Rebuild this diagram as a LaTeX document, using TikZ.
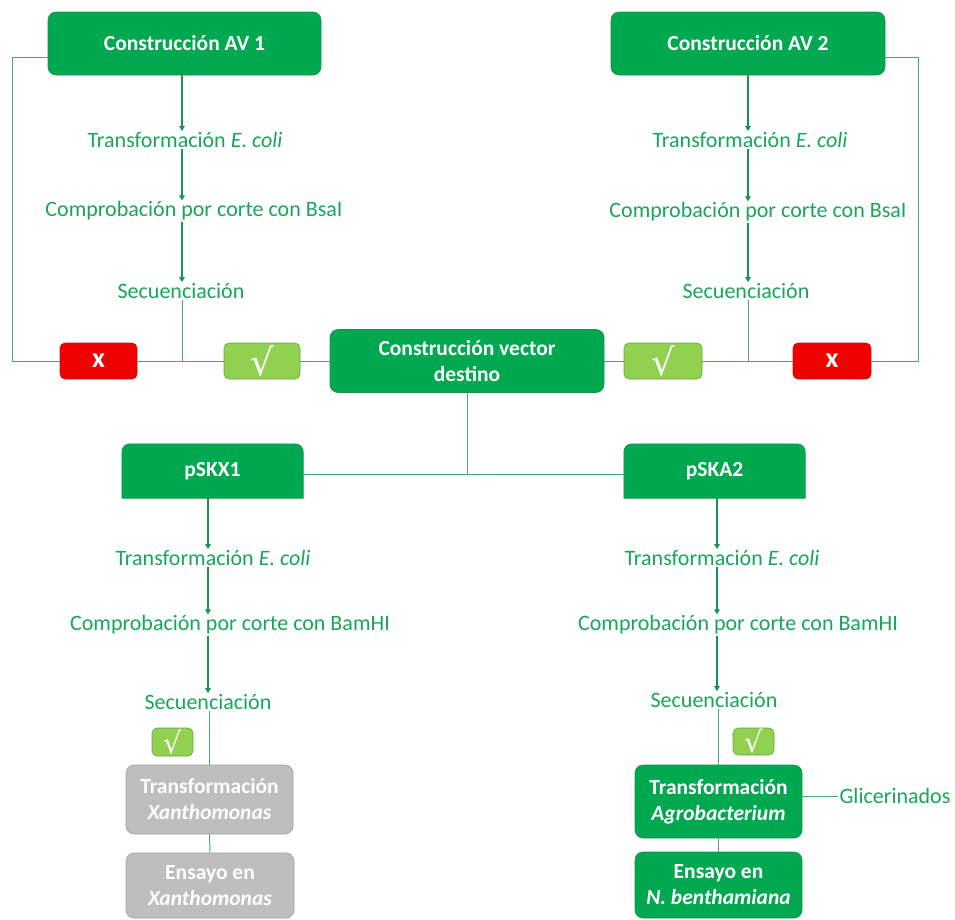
\documentclass[tikz,border=0pt]{standalone}
\usepackage{fontspec}
\setmainfont{Carlito}
\newfontfamily\symfont{DejaVu Sans}
\usetikzlibrary{arrows.meta}
\definecolor{boxgreen}{RGB}{0,168,80}
\definecolor{boxedge}{RGB}{30,140,75}
\definecolor{chkgreen}{RGB}{146,208,80}
\definecolor{chkedge}{RGB}{95,170,70}
\definecolor{xred}{RGB}{240,0,0}
\definecolor{xedge}{RGB}{190,20,20}
\definecolor{grayfill}{RGB}{190,190,190}
\definecolor{grayedge}{RGB}{160,160,160}
\definecolor{txtgreen}{RGB}{25,165,90}
\definecolor{lngreen}{RGB}{70,170,120}
\definecolor{arrgreen}{RGB}{20,150,80}
\tikzset{
  gbox/.style={rectangle, rounded corners=8pt, fill=boxgreen, draw=boxedge, line width=0.6pt,
    text=white, font=\bfseries\fontsize{21.5}{26}\selectfont, align=center, inner sep=0pt},
  graybox/.style={gbox, fill=grayfill, draw=grayedge},
  pshape/.style={rectangle, inner sep=0pt},
  ptext/.style={text=white, font=\bfseries\fontsize{21.5}{26}\selectfont, inner sep=0pt},
  kbox/.style={rectangle, rounded corners=5pt, fill=chkgreen, draw=chkedge, line width=0.6pt,
    text=white, font=\symfont\fontsize{37}{37}\selectfont, inner sep=0pt},
  xbox/.style={rectangle, rounded corners=5pt, fill=xred, draw=xedge, line width=0.6pt,
    text=white, font=\bfseries\fontsize{28}{28}\selectfont, inner sep=0pt,
    minimum width=77pt, minimum height=36pt},
  lbl/.style={text=txtgreen, font=\fontsize{22}{26}\selectfont, inner sep=1pt},
  arr/.style={draw=arrgreen, line width=1.3pt, -{Triangle[width=5.5pt,length=5pt]}},
  con/.style={draw=lngreen, line width=1pt}
}
\begin{document}
\begin{tikzpicture}[x=1pt,y=-1pt]
\useasboundingbox[fill=white] (0,0) rectangle (955,919);

% top boxes
\node[gbox, minimum width=273pt, minimum height=63pt] (av1) at (184.5,43.5) {Construcción AV 1};
\node[gbox, minimum width=274pt, minimum height=63pt] (av2) at (748,43.5) {Construcción AV 2};

% left column labels
\node[lbl] (t1) at (185,140) {Transformación \textit{E. coli}};
\node[lbl] (c1) at (194,211) {Comprobación por corte con BsaI};
\node[lbl] (s1) at (181,291) {Secuenciación};
% right column labels
\node[lbl] (t2) at (750,140) {Transformación \textit{E. coli}};
\node[lbl] (c2) at (758,212) {Comprobación por corte con BsaI};
\node[lbl] (s2) at (746,291) {Secuenciación};

% middle row
\node[xbox] (x1) at (98.5,361) {x};
\node[kbox, minimum width=76pt, minimum height=36pt] (k1) at (262,361) {√};
\node[gbox, minimum width=274pt, minimum height=63pt] (vec) at (467,361) {Construcción vector\\destino};
\node[kbox, minimum width=78pt, minimum height=36pt] (k2) at (663,361) {√};
\node[xbox, minimum width=78pt] (x2) at (832,361) {x};

\coordinate (a1) at (182,0);
\coordinate (a2) at (748,0);
\coordinate (j1) at (182,361);
\coordinate (j2) at (748,361);
\coordinate (l1) at (12,57);
\coordinate (r1) at (918,57);
\coordinate (j3) at (467,474);

\draw[arr] (av1.south -| a1) -- (t1.north -| a1);
\draw[arr] (t1.south -| a1) -- (c1.north -| a1);
\draw[arr] (c1.south -| a1) -- (s1.north -| a1);
\draw[arr] (av2.south -| a2) -- (t2.north -| a2);
\draw[arr] (t2.south -| a2) -- (c2.north -| a2);
\draw[arr] (c2.south -| a2) -- (s2.north -| a2);

\draw[con] (av1.west |- l1) -- (l1) |- (x1.west);
\draw[con] (x1.east) -- (k1.west);
\draw[con] (s1.south -| j1) -- (j1);
\draw[con] (k1.east) -- (vec.west);
\draw[con] (vec.east) -- (k2.west);
\draw[con] (k2.east) -- (x2.west);
\draw[con] (s2.south -| j2) -- (j2);
\draw[con] (av2.east |- r1) -- (r1) |- (x2.east);

% plasmid boxes (top corners rounded, flat bottom)
\node[pshape, minimum width=181pt, minimum height=54pt] (p1) at (212.5,471) {};
\node[pshape, minimum width=181pt, minimum height=54pt] (p2) at (714.5,471) {};
\foreach \p in {p1,p2}{
  \draw[fill=boxgreen, draw=boxedge, line width=0.6pt]
    (\p.south west) -- ([yshift=-8pt]\p.north west) arc[start angle=180, end angle=90, radius=8pt]
    -- ([xshift=-8pt]\p.north east) arc[start angle=90, end angle=0, radius=8pt]
    -- (\p.south east) -- cycle;
}
\node[ptext] at (p1) {pSKX1};
\node[ptext] at (p2) {pSKA2};

\draw[con] (vec.south) -- (j3);
\draw[con] (p1.east |- j3) -- (p2.west |- j3);

% lower labels
\node[lbl] (tl) at (213,558) {Transformación \textit{E. coli}};
\node[lbl] (cl) at (230,625) {Comprobación por corte con BamHI};
\node[lbl] (sl) at (208,702) {Secuenciación};
\node[lbl] (tr) at (722,558) {Transformación \textit{E. coli}};
\node[lbl] (cr) at (738,625) {Comprobación por corte con BamHI};
\node[lbl] (sr) at (714,700) {Secuenciación};

\coordinate (a3) at (208,0);
\coordinate (a4) at (717,0);
\draw[arr] (p1.south -| a3) -- (tl.north -| a3);
\draw[arr] (tl.south -| a3) -- (cl.north -| a3);
\draw[arr] (cl.south -| a3) -- (sl.north -| a3);
\draw[arr] (p2.south -| a4) -- (tr.north -| a4);
\draw[arr] (tr.south -| a4) -- (cr.north -| a4);
\draw[arr] (cr.south -| a4) -- (sr.north -| a4);

% bottom boxes
\node[kbox, minimum width=41pt, minimum height=28pt, font=\symfont\fontsize{29}{29}\selectfont] (k3) at (172.5,742) {√};
\node[graybox, minimum width=167pt, minimum height=69pt] (gx1) at (209.5,799.5) {Transformación\\\textit{Xanthomonas}};
\node[graybox, minimum width=168pt, minimum height=65pt] (gx2) at (210,885.5) {Ensayo en\\\textit{Xanthomonas}};
\node[kbox, minimum width=41pt, minimum height=27pt, font=\symfont\fontsize{29}{29}\selectfont] (k4) at (753.5,741.5) {√};
\node[gbox, minimum width=167pt, minimum height=73pt] (ga1) at (718.5,801.5) {Transformación\\\textit{Agrobacterium}};
\node[gbox, minimum width=167pt, minimum height=66pt] (ga2) at (718.5,885) {Ensayo en\\\textit{N. benthamiana}};
\node[lbl] (gl) at (895,796) {Glicerinados};

\draw[con] (sl.south -| gx1.north) -- (gx1.north);
\draw[con] (gx1.south) -- (gx2.north);
\draw[con] (sr.south -| ga1.north) -- (ga1.north);
\draw[con] (ga1.south) -- (ga2.north);
\draw[con] (ga1.east |- gl) -- (gl.west);
\end{tikzpicture}
\end{document}
